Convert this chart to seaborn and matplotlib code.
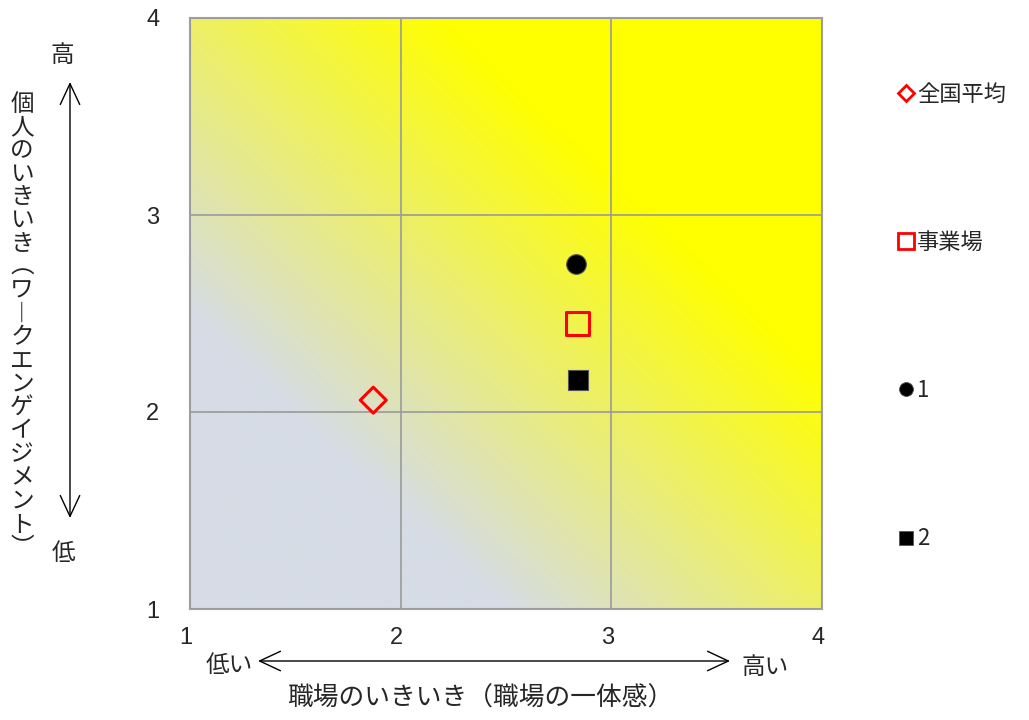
import numpy as np
import pandas as pd
import seaborn as sns
import matplotlib
matplotlib.use("Agg")
import matplotlib.pyplot as plt
import matplotlib.transforms as mtransforms
from matplotlib.colors import LinearSegmentedColormap
from matplotlib.lines import Line2D
from matplotlib.patches import FancyArrowPatch

# ---- data ----
series = ["全国平均", "事業場", "1", "2"]
workplace = [1.87, 2.84, 2.83, 2.84]      # 職場のいきいき
personal = [2.06, 2.45, 2.75, 2.16]       # 個人のいきいき
tick_values = [1, 2, 3, 4]

y_title = "個人のいきいき（ワークエンゲイジメント）"
x_title = "職場のいきいき（職場の一体感）"

sns.set_theme(style="white")
plt.rcParams["font.family"] = ["Noto Sans CJK JP", "DejaVu Sans"]

W, H = 1029, 720
fig = plt.figure(figsize=(W / 100, H / 100), dpi=100)
ax = fig.add_axes([190 / W, 1 - 609 / H, 632 / W, 591 / H])

# diagonal background gradient from grey-blue to yellow
cmap = LinearSegmentedColormap.from_list(
    "bg", [(0.0, "#D6DCE5"), (0.25, "#D6DCE5"), (0.70, "#FFFF00"), (1.0, "#FFFF00")])
gx, gy = np.meshgrid(np.linspace(1, 4, 400), np.linspace(1, 4, 400))
grad = ((gx - 1) + (gy - 1)) / 6.0
ax.imshow(grad, extent=[1, 4, 1, 4], origin="lower", cmap=cmap,
          vmin=0, vmax=1, aspect="auto", zorder=0, interpolation="bilinear")

df = pd.DataFrame({"series": series, "x": workplace, "y": personal})

styles = {
    "全国平均": dict(marker="D", s=175, facecolor="none", edgecolor="#FF0000", linewidth=2.2),
    "事業場": dict(marker="s", s=270, facecolor="none", edgecolor="#FF0000", linewidth=2.2),
    "1": dict(marker="o", s=200, facecolor="black", edgecolor="#555555", linewidth=0.8),
    "2": dict(marker="s", s=210, facecolor="black", edgecolor="#555555", linewidth=0.8),
}
for name in series:
    st = styles[name]
    sns.scatterplot(data=df[df["series"] == name], x="x", y="y", ax=ax,
                    marker=st["marker"], s=st["s"], facecolor=st["facecolor"],
                    edgecolor=st["edgecolor"], linewidth=st["linewidth"],
                    zorder=5, legend=False)

ax.set_xlim(1, 4)
ax.set_ylim(1, 4)
ax.set_xticks(tick_values)
ax.set_yticks(tick_values)
ax.set_xticklabels([str(v) for v in tick_values], family="Liberation Sans", fontsize=17)
ax.set_yticklabels([str(v) for v in tick_values], family="Liberation Sans", fontsize=17)
ax.tick_params(axis="x", length=0, pad=13)
ax.tick_params(axis="y", length=0, pad=22)
shift = mtransforms.ScaledTranslation(-4 / 100, 0, fig.dpi_scale_trans)
for lbl in ax.get_xticklabels():
    lbl.set_transform(lbl.get_transform() + shift)
ax.set_xlabel("")
ax.set_ylabel("")
ax.grid(True, color="#9A9A9A", linewidth=1.2, zorder=1)
ax.set_axisbelow(False)
for sp in ax.spines.values():
    sp.set_color("#A0A0A0")
    sp.set_linewidth(1.5)

# helpers in pixel coordinates (origin top-left)
def fx(px):
    return px / W

def fy(py):
    return 1 - py / H

arrow = dict(arrowstyle="<->,head_length=0.75,head_width=0.35", color="black",
             lw=1.0, mutation_scale=20, shrinkA=0, shrinkB=0)
fig.add_artist(FancyArrowPatch((fx(70), fy(82)), (fx(70), fy(518)),
                               transform=fig.transFigure, **arrow))
fig.add_artist(FancyArrowPatch((fx(258), fy(661)), (fx(730), fy(661)),
                               transform=fig.transFigure, **arrow))

fs = 17
fig.text(fx(62), fy(55), "高", fontsize=fs, ha="center", va="center")
fig.text(fx(63), fy(553), "低", fontsize=fs, ha="center", va="center")
fig.text(fx(229), fy(665), "低い", fontsize=fs, ha="center", va="center")
fig.text(fx(765), fy(667), "高い", fontsize=fs, ha="center", va="center")
fig.text(fx(480), fy(699), x_title, fontsize=18.5, ha="center", va="center")

# vertical (upright) axis title, one character per row
vertical_forms = {"（": "︵", "）": "︶", "ー": "︱"}
chars = [vertical_forms.get(c, c) for c in y_title]
top, bottom = 104, 548
step = (bottom - top) / (len(chars) - 1)
for i, c in enumerate(chars):
    fig.text(fx(22), fy(top + i * step), c, fontsize=fs, ha="center", va="center")

handles = [
    Line2D([], [], marker="D", ls="none", markersize=8, mfc="none", mec="#FF0000", mew=2.0),
    Line2D([], [], marker="s", ls="none", markersize=11, mfc="none", mec="#FF0000", mew=2.0),
    Line2D([], [], marker="o", ls="none", markersize=10, mfc="black", mec="#555555", mew=0.6),
    Line2D([], [], marker="s", ls="none", markersize=10, mfc="black", mec="#555555", mew=0.6),
]
fig.legend(handles, series, loc="upper left", bbox_to_anchor=(fx(897), fy(83)),
           frameon=False, fontsize=16, labelspacing=5.63, handlelength=0.8,
           handletextpad=0.1, borderaxespad=0, borderpad=0)

fig.savefig("out.png", dpi=100)
